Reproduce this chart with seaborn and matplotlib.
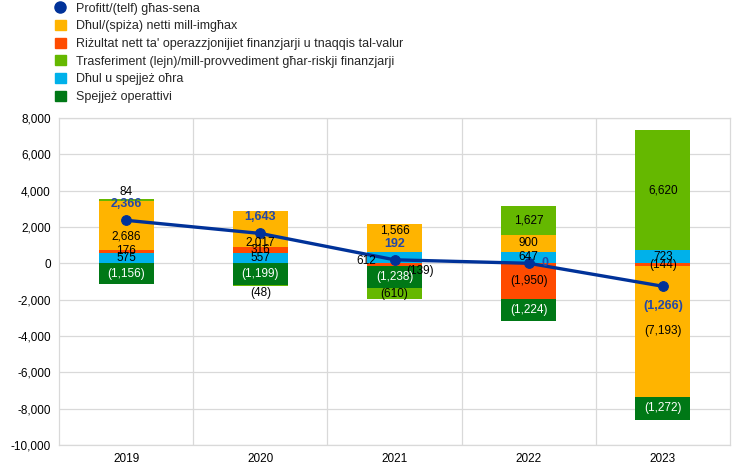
"""Recreate stacked bar chart of annual profit components (Maltese labels)."""
import matplotlib
matplotlib.use("Agg")
import matplotlib.pyplot as plt
from matplotlib.lines import Line2D
from matplotlib.patches import Patch
from matplotlib.ticker import FuncFormatter, FixedLocator
import numpy as np
import pandas as pd
import seaborn as sns

years = ["2019", "2020", "2021", "2022", "2023"]
profit = [2366, 1643, 192, 0, -1266]
other_income = [575, 557, 612, 647, 723]
fx_result = [176, 316, -139, -1950, -144]
net_interest = [2686, 2017, 1566, 900, -7193]
operating = [-1156, -1199, -1238, -1224, -1272]
risk_transfer = [84, -48, -610, 1627, 6620]

lbl_profit = "Profitt/(telf) għas-sena"
lbl_interest = "Dħul/(spiża) netti mill-imgħax"
lbl_fx = "Riżultat nett ta' operazzjonijiet finanzjarji u tnaqqis tal-valur"
lbl_transfer = "Trasferiment (lejn)/mill-provvediment għar-riskji finanzjarji"
lbl_other = "Dħul u spejjeż oħra"
lbl_operating = "Spejjeż operattivi"

BLUE = "#003299"
YELLOW = "#FFB400"
RED = "#FF4B00"
LGREEN = "#65B800"
CYAN = "#00B1EA"
DGREEN = "#007816"

sns.set_theme(style="white")
plt.rcParams["font.family"] = ["Liberation Sans", "DejaVu Sans"]

# stacking order, bottom-up for positives and top-down for negatives
series = [
    ("other", other_income, CYAN, "black"),
    ("fx", fx_result, RED, "black"),
    ("interest", net_interest, YELLOW, "black"),
    ("operating", operating, DGREEN, "white"),
    ("transfer", risk_transfer, LGREEN, "black"),
]

# a few labels were nudged off their segment centre in the original
label_nudge = {
    ("transfer", 0): "above",
    ("transfer", 1): "below",
    ("other", 2): (-0.21, -200),
    ("fx", 2): (0.19, -350),
    ("interest", 0): (0, -620),
    ("interest", 1): (0, -740),
    ("interest", 2): (0, 400),
}


def fmt(v):
    return f"({abs(v):,.0f})" if v < 0 else f"{v:,.0f}"


fig = plt.figure(figsize=(7.44, 4.74), dpi=100)
ax = fig.add_axes([0.0793, 0.0612, 0.902, 0.690])

x = np.arange(len(years))
width = 0.41
pos_base = np.zeros(len(years))
neg_base = np.zeros(len(years))
for key, vals, color, tcol in series:
    vals = np.array(vals, dtype=float)
    bottoms = np.where(vals >= 0, pos_base, neg_base)
    ax.bar(x, vals, width, bottom=bottoms, color=color, linewidth=0, zorder=2)
    for i, v in enumerate(vals):
        yc = bottoms[i] + v / 2
        xc = x[i]
        va = "center"
        nudge = label_nudge.get((key, i))
        if nudge == "above":
            yc, va = bottoms[i] + v + 60, "bottom"
        elif nudge == "below":
            yc, va = bottoms[i] + v - 60, "top"
        elif nudge is not None:
            xc, yc = xc + nudge[0], yc + nudge[1]
        ax.text(xc, yc, fmt(v), ha="center", va=va, fontsize=8.5,
                color=tcol, zorder=5)
    pos_base += np.where(vals >= 0, vals, 0)
    neg_base += np.where(vals < 0, vals, 0)

df = pd.DataFrame({"x": x, "profit": profit})
sns.lineplot(data=df, x="x", y="profit", ax=ax, color=BLUE, linewidth=2.4,
             marker="o", markersize=7, markeredgecolor=BLUE, zorder=4)

for i, v in enumerate(profit):
    if v > 0:
        off, ha = (0, 11.5), "center"
    elif v == 0:
        off, ha = (9.5, 0), "left"
    else:
        off, ha = (0, -14.5), "center"
    ax.annotate(fmt(v), (x[i], v), xytext=off, textcoords="offset points",
                ha=ha, va="center", fontsize=9, fontweight="bold",
                color="#2348A8", zorder=6)

ax.set_xlim(-0.5, len(years) - 0.5)
ax.set_ylim(-10000, 8000)
ax.yaxis.set_major_locator(FixedLocator(np.arange(-10000, 8001, 2000)))
ax.yaxis.set_major_formatter(FuncFormatter(lambda v, p: f"{v:,.0f}"))
ax.set_xticks(x)
ax.set_xticklabels(years)
ax.set_xticks(x[:-1] + 0.5, minor=True)
ax.set_xlabel("")
ax.set_ylabel("")
ax.tick_params(axis="both", which="both", length=0, labelsize=8.5,
               colors="black", pad=6)
ax.grid(axis="y", which="major", color="#d9d9d9", linewidth=0.9, zorder=0)
ax.grid(axis="x", which="minor", color="#d9d9d9", linewidth=0.9, zorder=0)
ax.set_axisbelow(True)
for sp in ax.spines.values():
    sp.set_color("#d9d9d9")
    sp.set_linewidth(0.9)

handles = [
    Line2D([0], [0], marker="o", color="none", markerfacecolor=BLUE,
           markeredgecolor=BLUE, markersize=8),
    Patch(color=YELLOW),
    Patch(color=RED),
    Patch(color=LGREEN),
    Patch(color=CYAN),
    Patch(color=DGREEN),
]
labels = [lbl_profit, lbl_interest, lbl_fx, lbl_transfer, lbl_other, lbl_operating]
fig.legend(handles, labels, loc="upper left", bbox_to_anchor=(0.074, 0.995),
           frameon=False, fontsize=9, handlelength=0.85, handleheight=0.85,
           labelspacing=0.43, handletextpad=0.8, borderaxespad=0,
           borderpad=0)

fig.savefig("out.png", dpi=100)
plt.close(fig)
